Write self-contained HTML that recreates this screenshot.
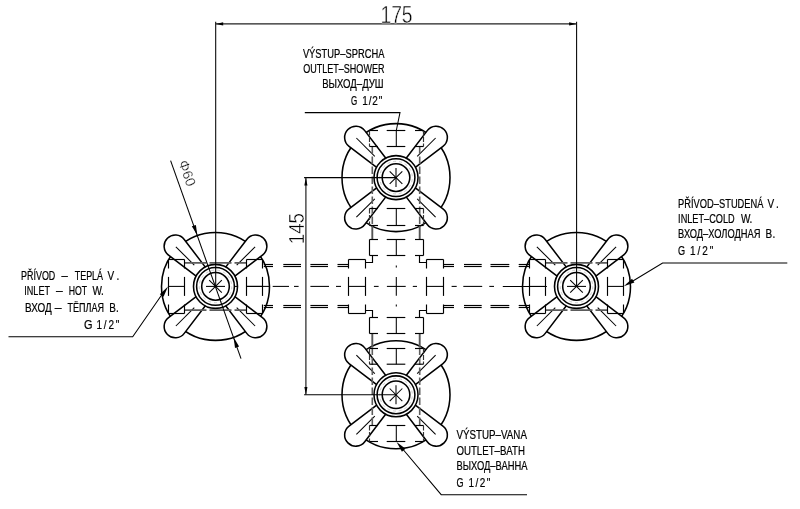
<!DOCTYPE html>
<html lang="cs">
<head>
<meta charset="utf-8">
<title>Baterie – rozměrový výkres</title>
<style>
html,body{margin:0;padding:0;background:#fff;}
body{width:800px;height:509px;overflow:hidden;}
svg{display:block;will-change:transform;}
text{white-space:pre;font-family:"Liberation Sans",sans-serif;}
</style>
</head>
<body>
<svg width="800" height="509" viewBox="0 0 800 509">
<rect width="800" height="509" fill="#fff"/>
<g transform="translate(215.5,286.4) rotate(0)">
<circle r="54" fill="#fff" stroke="#000" stroke-width="1.55"/>
<g transform="rotate(45)"><path d="M20.5,6.4 L55.3,11.1 A11.2,11.2 0 1 0 55.3,-11.1 L20.5,-6.4 Z" fill="#fff" stroke="#000" stroke-width="1.55" stroke-linejoin="round"/><line x1="30" y1="0" x2="56" y2="0" stroke="#000" stroke-width="1.05"/></g>
<g transform="rotate(135)"><path d="M20.5,6.4 L55.3,11.1 A11.2,11.2 0 1 0 55.3,-11.1 L20.5,-6.4 Z" fill="#fff" stroke="#000" stroke-width="1.55" stroke-linejoin="round"/><line x1="30" y1="0" x2="56" y2="0" stroke="#000" stroke-width="1.05"/></g>
<g transform="rotate(225)"><path d="M20.5,6.4 L55.3,11.1 A11.2,11.2 0 1 0 55.3,-11.1 L20.5,-6.4 Z" fill="#fff" stroke="#000" stroke-width="1.55" stroke-linejoin="round"/><line x1="30" y1="0" x2="56" y2="0" stroke="#000" stroke-width="1.05"/></g>
<g transform="rotate(315)"><path d="M20.5,6.4 L55.3,11.1 A11.2,11.2 0 1 0 55.3,-11.1 L20.5,-6.4 Z" fill="#fff" stroke="#000" stroke-width="1.55" stroke-linejoin="round"/><line x1="30" y1="0" x2="56" y2="0" stroke="#000" stroke-width="1.05"/></g>
<circle r="22" fill="#fff" stroke="#000" stroke-width="1.55"/>
<circle r="18.9" fill="none" stroke="#000" stroke-width="1.55"/>
<circle r="16.3" fill="none" stroke="#aaa" stroke-width="0.6" stroke-dasharray="3 3"/>
<circle r="13.8" fill="none" stroke="#000" stroke-width="1.55"/>
<line x1="-9.5" y1="0" x2="9.5" y2="0" stroke="#000" stroke-width="1.05" />
<line x1="-6.3" y1="-6.3" x2="6.3" y2="6.3" stroke="#000" stroke-width="1.05" />
<line x1="-6.3" y1="6.3" x2="6.3" y2="-6.3" stroke="#000" stroke-width="1.05" />
</g>
<g transform="translate(576.5,286.4) rotate(0)">
<circle r="54" fill="#fff" stroke="#000" stroke-width="1.55"/>
<g transform="rotate(45)"><path d="M20.5,6.4 L55.3,11.1 A11.2,11.2 0 1 0 55.3,-11.1 L20.5,-6.4 Z" fill="#fff" stroke="#000" stroke-width="1.55" stroke-linejoin="round"/><line x1="30" y1="0" x2="56" y2="0" stroke="#000" stroke-width="1.05"/></g>
<g transform="rotate(135)"><path d="M20.5,6.4 L55.3,11.1 A11.2,11.2 0 1 0 55.3,-11.1 L20.5,-6.4 Z" fill="#fff" stroke="#000" stroke-width="1.55" stroke-linejoin="round"/><line x1="30" y1="0" x2="56" y2="0" stroke="#000" stroke-width="1.05"/></g>
<g transform="rotate(225)"><path d="M20.5,6.4 L55.3,11.1 A11.2,11.2 0 1 0 55.3,-11.1 L20.5,-6.4 Z" fill="#fff" stroke="#000" stroke-width="1.55" stroke-linejoin="round"/><line x1="30" y1="0" x2="56" y2="0" stroke="#000" stroke-width="1.05"/></g>
<g transform="rotate(315)"><path d="M20.5,6.4 L55.3,11.1 A11.2,11.2 0 1 0 55.3,-11.1 L20.5,-6.4 Z" fill="#fff" stroke="#000" stroke-width="1.55" stroke-linejoin="round"/><line x1="30" y1="0" x2="56" y2="0" stroke="#000" stroke-width="1.05"/></g>
<circle r="22" fill="#fff" stroke="#000" stroke-width="1.55"/>
<circle r="18.9" fill="none" stroke="#000" stroke-width="1.55"/>
<circle r="16.3" fill="none" stroke="#aaa" stroke-width="0.6" stroke-dasharray="3 3"/>
<circle r="13.8" fill="none" stroke="#000" stroke-width="1.55"/>
<line x1="-9.5" y1="0" x2="9.5" y2="0" stroke="#000" stroke-width="1.05" />
<line x1="-6.3" y1="-6.3" x2="6.3" y2="6.3" stroke="#000" stroke-width="1.05" />
<line x1="-6.3" y1="6.3" x2="6.3" y2="-6.3" stroke="#000" stroke-width="1.05" />
</g>
<g transform="translate(396,177.6) rotate(90)">
<circle r="54" fill="#fff" stroke="#000" stroke-width="1.55"/>
<g transform="rotate(45)"><path d="M20.5,6.4 L55.3,11.1 A11.2,11.2 0 1 0 55.3,-11.1 L20.5,-6.4 Z" fill="#fff" stroke="#000" stroke-width="1.55" stroke-linejoin="round"/><line x1="30" y1="0" x2="56" y2="0" stroke="#000" stroke-width="1.05"/></g>
<g transform="rotate(135)"><path d="M20.5,6.4 L55.3,11.1 A11.2,11.2 0 1 0 55.3,-11.1 L20.5,-6.4 Z" fill="#fff" stroke="#000" stroke-width="1.55" stroke-linejoin="round"/><line x1="30" y1="0" x2="56" y2="0" stroke="#000" stroke-width="1.05"/></g>
<g transform="rotate(225)"><path d="M20.5,6.4 L55.3,11.1 A11.2,11.2 0 1 0 55.3,-11.1 L20.5,-6.4 Z" fill="#fff" stroke="#000" stroke-width="1.55" stroke-linejoin="round"/><line x1="30" y1="0" x2="56" y2="0" stroke="#000" stroke-width="1.05"/></g>
<g transform="rotate(315)"><path d="M20.5,6.4 L55.3,11.1 A11.2,11.2 0 1 0 55.3,-11.1 L20.5,-6.4 Z" fill="#fff" stroke="#000" stroke-width="1.55" stroke-linejoin="round"/><line x1="30" y1="0" x2="56" y2="0" stroke="#000" stroke-width="1.05"/></g>
<circle r="22" fill="#fff" stroke="#000" stroke-width="1.55"/>
<circle r="18.9" fill="none" stroke="#000" stroke-width="1.55"/>
<circle r="16.3" fill="none" stroke="#aaa" stroke-width="0.6" stroke-dasharray="3 3"/>
<circle r="13.8" fill="none" stroke="#000" stroke-width="1.55"/>
<line x1="-9.5" y1="0" x2="9.5" y2="0" stroke="#000" stroke-width="1.05" />
<line x1="-6.3" y1="-6.3" x2="6.3" y2="6.3" stroke="#000" stroke-width="1.05" />
<line x1="-6.3" y1="6.3" x2="6.3" y2="-6.3" stroke="#000" stroke-width="1.05" />
</g>
<g transform="translate(396,394.8) rotate(90)">
<circle r="54" fill="#fff" stroke="#000" stroke-width="1.55"/>
<g transform="rotate(45)"><path d="M20.5,6.4 L55.3,11.1 A11.2,11.2 0 1 0 55.3,-11.1 L20.5,-6.4 Z" fill="#fff" stroke="#000" stroke-width="1.55" stroke-linejoin="round"/><line x1="30" y1="0" x2="56" y2="0" stroke="#000" stroke-width="1.05"/></g>
<g transform="rotate(135)"><path d="M20.5,6.4 L55.3,11.1 A11.2,11.2 0 1 0 55.3,-11.1 L20.5,-6.4 Z" fill="#fff" stroke="#000" stroke-width="1.55" stroke-linejoin="round"/><line x1="30" y1="0" x2="56" y2="0" stroke="#000" stroke-width="1.05"/></g>
<g transform="rotate(225)"><path d="M20.5,6.4 L55.3,11.1 A11.2,11.2 0 1 0 55.3,-11.1 L20.5,-6.4 Z" fill="#fff" stroke="#000" stroke-width="1.55" stroke-linejoin="round"/><line x1="30" y1="0" x2="56" y2="0" stroke="#000" stroke-width="1.05"/></g>
<g transform="rotate(315)"><path d="M20.5,6.4 L55.3,11.1 A11.2,11.2 0 1 0 55.3,-11.1 L20.5,-6.4 Z" fill="#fff" stroke="#000" stroke-width="1.55" stroke-linejoin="round"/><line x1="30" y1="0" x2="56" y2="0" stroke="#000" stroke-width="1.05"/></g>
<circle r="22" fill="#fff" stroke="#000" stroke-width="1.55"/>
<circle r="18.9" fill="none" stroke="#000" stroke-width="1.55"/>
<circle r="16.3" fill="none" stroke="#aaa" stroke-width="0.6" stroke-dasharray="3 3"/>
<circle r="13.8" fill="none" stroke="#000" stroke-width="1.55"/>
<line x1="-9.5" y1="0" x2="9.5" y2="0" stroke="#000" stroke-width="1.05" />
<line x1="-6.3" y1="-6.3" x2="6.3" y2="6.3" stroke="#000" stroke-width="1.05" />
<line x1="-6.3" y1="6.3" x2="6.3" y2="-6.3" stroke="#000" stroke-width="1.05" />
</g>
<line x1="184.5" y1="262.9" x2="246.5" y2="262.9" stroke="#5c5c5c" stroke-width="1.9" stroke-dasharray="22 3"/>
<line x1="184.5" y1="310.1" x2="246.5" y2="310.1" stroke="#5c5c5c" stroke-width="1.9" stroke-dasharray="22 3"/>
<line x1="545.5" y1="262.9" x2="607.5" y2="262.9" stroke="#5c5c5c" stroke-width="1.9" stroke-dasharray="22 3"/>
<line x1="545.5" y1="310.1" x2="607.5" y2="310.1" stroke="#5c5c5c" stroke-width="1.9" stroke-dasharray="22 3"/>
<line x1="372.3" y1="146.5" x2="372.3" y2="225.5" stroke="#5e5e5e" stroke-width="1.6" stroke-dasharray="7.5 2.5"/>
<line x1="372.3" y1="225.5" x2="372.3" y2="239.5" stroke="#555" stroke-width="1.9" />
<line x1="372.3" y1="333.5" x2="372.3" y2="347.5" stroke="#555" stroke-width="1.9" />
<line x1="372.3" y1="347.5" x2="372.3" y2="425.5" stroke="#5e5e5e" stroke-width="1.6" stroke-dasharray="7.5 2.5"/>
<line x1="419.7" y1="146.5" x2="419.7" y2="225.5" stroke="#5e5e5e" stroke-width="1.6" stroke-dasharray="7.5 2.5"/>
<line x1="419.7" y1="225.5" x2="419.7" y2="239.5" stroke="#555" stroke-width="1.9" />
<line x1="419.7" y1="333.5" x2="419.7" y2="347.5" stroke="#555" stroke-width="1.9" />
<line x1="419.7" y1="347.5" x2="419.7" y2="425.5" stroke="#5e5e5e" stroke-width="1.6" stroke-dasharray="7.5 2.5"/>
<g>
<line x1="168.5" y1="259.5" x2="184.5" y2="259.5" stroke="#000" stroke-width="1.15" />
<line x1="168.5" y1="313.5" x2="184.5" y2="313.5" stroke="#000" stroke-width="1.15" />
<line x1="168.5" y1="259.5" x2="168.5" y2="268.5" stroke="#000" stroke-width="1.15" />
<line x1="168.5" y1="304.5" x2="168.5" y2="313.5" stroke="#000" stroke-width="1.15" />
<line x1="168.5" y1="276.9" x2="168.5" y2="295.9" stroke="#000" stroke-width="1.15" />
<line x1="184.5" y1="259.5" x2="184.5" y2="268.5" stroke="#000" stroke-width="1.15" />
<line x1="184.5" y1="304.5" x2="184.5" y2="313.5" stroke="#000" stroke-width="1.15" />
<line x1="184.5" y1="276.9" x2="184.5" y2="295.9" stroke="#000" stroke-width="1.15" />
<line x1="168.5" y1="286.4" x2="184.5" y2="286.4" stroke="#000" stroke-width="1.05" />
</g>
<g>
<line x1="246.5" y1="259.5" x2="262.5" y2="259.5" stroke="#000" stroke-width="1.15" />
<line x1="246.5" y1="313.5" x2="262.5" y2="313.5" stroke="#000" stroke-width="1.15" />
<line x1="246.5" y1="259.5" x2="246.5" y2="268.5" stroke="#000" stroke-width="1.15" />
<line x1="246.5" y1="304.5" x2="246.5" y2="313.5" stroke="#000" stroke-width="1.15" />
<line x1="246.5" y1="276.9" x2="246.5" y2="295.9" stroke="#000" stroke-width="1.15" />
<line x1="262.5" y1="259.5" x2="262.5" y2="268.5" stroke="#000" stroke-width="1.15" />
<line x1="262.5" y1="304.5" x2="262.5" y2="313.5" stroke="#000" stroke-width="1.15" />
<line x1="262.5" y1="276.9" x2="262.5" y2="295.9" stroke="#000" stroke-width="1.15" />
<line x1="246.5" y1="286.4" x2="262.5" y2="286.4" stroke="#000" stroke-width="1.05" />
</g>
<g>
<line x1="529.5" y1="259.5" x2="545.5" y2="259.5" stroke="#000" stroke-width="1.15" />
<line x1="529.5" y1="313.5" x2="545.5" y2="313.5" stroke="#000" stroke-width="1.15" />
<line x1="529.5" y1="259.5" x2="529.5" y2="268.5" stroke="#000" stroke-width="1.15" />
<line x1="529.5" y1="304.5" x2="529.5" y2="313.5" stroke="#000" stroke-width="1.15" />
<line x1="529.5" y1="276.9" x2="529.5" y2="295.9" stroke="#000" stroke-width="1.15" />
<line x1="545.5" y1="259.5" x2="545.5" y2="268.5" stroke="#000" stroke-width="1.15" />
<line x1="545.5" y1="304.5" x2="545.5" y2="313.5" stroke="#000" stroke-width="1.15" />
<line x1="545.5" y1="276.9" x2="545.5" y2="295.9" stroke="#000" stroke-width="1.15" />
<line x1="529.5" y1="286.4" x2="545.5" y2="286.4" stroke="#000" stroke-width="1.05" />
</g>
<g>
<line x1="607.5" y1="259.5" x2="623.5" y2="259.5" stroke="#000" stroke-width="1.15" />
<line x1="607.5" y1="313.5" x2="623.5" y2="313.5" stroke="#000" stroke-width="1.15" />
<line x1="607.5" y1="259.5" x2="607.5" y2="268.5" stroke="#000" stroke-width="1.15" />
<line x1="607.5" y1="304.5" x2="607.5" y2="313.5" stroke="#000" stroke-width="1.15" />
<line x1="607.5" y1="276.9" x2="607.5" y2="295.9" stroke="#000" stroke-width="1.15" />
<line x1="623.5" y1="259.5" x2="623.5" y2="268.5" stroke="#000" stroke-width="1.15" />
<line x1="623.5" y1="304.5" x2="623.5" y2="313.5" stroke="#000" stroke-width="1.15" />
<line x1="623.5" y1="276.9" x2="623.5" y2="295.9" stroke="#000" stroke-width="1.15" />
<line x1="607.5" y1="286.4" x2="623.5" y2="286.4" stroke="#000" stroke-width="1.05" />
</g>
<g>
<line x1="348.5" y1="259.5" x2="365.5" y2="259.5" stroke="#000" stroke-width="1.15" />
<line x1="348.5" y1="313.5" x2="365.5" y2="313.5" stroke="#000" stroke-width="1.15" />
<line x1="348.5" y1="259.5" x2="348.5" y2="268.5" stroke="#000" stroke-width="1.15" />
<line x1="348.5" y1="304.5" x2="348.5" y2="313.5" stroke="#000" stroke-width="1.15" />
<line x1="348.5" y1="276.9" x2="348.5" y2="295.9" stroke="#000" stroke-width="1.15" />
<line x1="365.5" y1="259.5" x2="365.5" y2="268.5" stroke="#000" stroke-width="1.15" />
<line x1="365.5" y1="304.5" x2="365.5" y2="313.5" stroke="#000" stroke-width="1.15" />
<line x1="365.5" y1="276.9" x2="365.5" y2="295.9" stroke="#000" stroke-width="1.15" />
<line x1="348.5" y1="286.4" x2="365.5" y2="286.4" stroke="#000" stroke-width="1.05" />
</g>
<g>
<line x1="426.5" y1="259.5" x2="443.5" y2="259.5" stroke="#000" stroke-width="1.15" />
<line x1="426.5" y1="313.5" x2="443.5" y2="313.5" stroke="#000" stroke-width="1.15" />
<line x1="426.5" y1="259.5" x2="426.5" y2="268.5" stroke="#000" stroke-width="1.15" />
<line x1="426.5" y1="304.5" x2="426.5" y2="313.5" stroke="#000" stroke-width="1.15" />
<line x1="426.5" y1="276.9" x2="426.5" y2="295.9" stroke="#000" stroke-width="1.15" />
<line x1="443.5" y1="259.5" x2="443.5" y2="268.5" stroke="#000" stroke-width="1.15" />
<line x1="443.5" y1="304.5" x2="443.5" y2="313.5" stroke="#000" stroke-width="1.15" />
<line x1="443.5" y1="276.9" x2="443.5" y2="295.9" stroke="#000" stroke-width="1.15" />
<line x1="426.5" y1="286.4" x2="443.5" y2="286.4" stroke="#000" stroke-width="1.05" />
</g>
<g>
<line x1="369.5" y1="130.5" x2="369.5" y2="146.5" stroke="#333" stroke-width="1.15" stroke-dasharray="5 1.5"/>
<line x1="423.5" y1="130.5" x2="423.5" y2="146.5" stroke="#333" stroke-width="1.15" stroke-dasharray="5 1.5"/>
<line x1="369.5" y1="130.5" x2="378" y2="130.5" stroke="#000" stroke-width="1.15" />
<line x1="415" y1="130.5" x2="423.5" y2="130.5" stroke="#000" stroke-width="1.15" />
<line x1="386.7" y1="130.5" x2="405.3" y2="130.5" stroke="#000" stroke-width="1.15" />
<line x1="369.5" y1="146.5" x2="378" y2="146.5" stroke="#000" stroke-width="1.15" />
<line x1="415" y1="146.5" x2="423.5" y2="146.5" stroke="#000" stroke-width="1.15" />
<line x1="386.7" y1="146.5" x2="405.3" y2="146.5" stroke="#000" stroke-width="1.15" />
<line x1="396.3" y1="130.5" x2="396.3" y2="146.5" stroke="#000" stroke-width="1.05" />
</g>
<g>
<line x1="369.5" y1="208.5" x2="369.5" y2="225.5" stroke="#333" stroke-width="1.15" stroke-dasharray="5 1.5"/>
<line x1="423.5" y1="208.5" x2="423.5" y2="225.5" stroke="#333" stroke-width="1.15" stroke-dasharray="5 1.5"/>
<line x1="369.5" y1="208.5" x2="378" y2="208.5" stroke="#000" stroke-width="1.15" />
<line x1="415" y1="208.5" x2="423.5" y2="208.5" stroke="#000" stroke-width="1.15" />
<line x1="386.7" y1="208.5" x2="405.3" y2="208.5" stroke="#000" stroke-width="1.15" />
<line x1="369.5" y1="225.5" x2="378" y2="225.5" stroke="#000" stroke-width="1.15" />
<line x1="415" y1="225.5" x2="423.5" y2="225.5" stroke="#000" stroke-width="1.15" />
<line x1="386.7" y1="225.5" x2="405.3" y2="225.5" stroke="#000" stroke-width="1.15" />
<line x1="396.3" y1="208.5" x2="396.3" y2="225.5" stroke="#000" stroke-width="1.05" />
</g>
<g>
<line x1="369.5" y1="239.5" x2="369.5" y2="255.5" stroke="#000" stroke-width="1.15" />
<line x1="423.5" y1="239.5" x2="423.5" y2="255.5" stroke="#000" stroke-width="1.15" />
<line x1="369.5" y1="239.5" x2="378" y2="239.5" stroke="#000" stroke-width="1.15" />
<line x1="415" y1="239.5" x2="423.5" y2="239.5" stroke="#000" stroke-width="1.15" />
<line x1="386.7" y1="239.5" x2="405.3" y2="239.5" stroke="#000" stroke-width="1.15" />
<line x1="369.5" y1="255.5" x2="378" y2="255.5" stroke="#000" stroke-width="1.15" />
<line x1="415" y1="255.5" x2="423.5" y2="255.5" stroke="#000" stroke-width="1.15" />
<line x1="386.7" y1="255.5" x2="405.3" y2="255.5" stroke="#000" stroke-width="1.15" />
<line x1="396.3" y1="239.5" x2="396.3" y2="255.5" stroke="#000" stroke-width="1.05" />
</g>
<g>
<line x1="369.5" y1="317.5" x2="369.5" y2="333.5" stroke="#000" stroke-width="1.15" />
<line x1="423.5" y1="317.5" x2="423.5" y2="333.5" stroke="#000" stroke-width="1.15" />
<line x1="369.5" y1="317.5" x2="378" y2="317.5" stroke="#000" stroke-width="1.15" />
<line x1="415" y1="317.5" x2="423.5" y2="317.5" stroke="#000" stroke-width="1.15" />
<line x1="386.7" y1="317.5" x2="405.3" y2="317.5" stroke="#000" stroke-width="1.15" />
<line x1="369.5" y1="333.5" x2="378" y2="333.5" stroke="#000" stroke-width="1.15" />
<line x1="415" y1="333.5" x2="423.5" y2="333.5" stroke="#000" stroke-width="1.15" />
<line x1="386.7" y1="333.5" x2="405.3" y2="333.5" stroke="#000" stroke-width="1.15" />
<line x1="396.3" y1="317.5" x2="396.3" y2="333.5" stroke="#000" stroke-width="1.05" />
</g>
<g>
<line x1="369.5" y1="348.5" x2="369.5" y2="364.2" stroke="#333" stroke-width="1.15" stroke-dasharray="5 1.5"/>
<line x1="423.5" y1="348.5" x2="423.5" y2="364.2" stroke="#333" stroke-width="1.15" stroke-dasharray="5 1.5"/>
<line x1="369.5" y1="348.5" x2="378" y2="348.5" stroke="#000" stroke-width="1.15" />
<line x1="415" y1="348.5" x2="423.5" y2="348.5" stroke="#000" stroke-width="1.15" />
<line x1="386.7" y1="348.5" x2="405.3" y2="348.5" stroke="#000" stroke-width="1.15" />
<line x1="369.5" y1="364.2" x2="378" y2="364.2" stroke="#000" stroke-width="1.15" />
<line x1="415" y1="364.2" x2="423.5" y2="364.2" stroke="#000" stroke-width="1.15" />
<line x1="386.7" y1="364.2" x2="405.3" y2="364.2" stroke="#000" stroke-width="1.15" />
<line x1="396.3" y1="348.5" x2="396.3" y2="364.2" stroke="#000" stroke-width="1.05" />
</g>
<g>
<line x1="369.5" y1="425.5" x2="369.5" y2="441.5" stroke="#333" stroke-width="1.15" stroke-dasharray="5 1.5"/>
<line x1="423.5" y1="425.5" x2="423.5" y2="441.5" stroke="#333" stroke-width="1.15" stroke-dasharray="5 1.5"/>
<line x1="369.5" y1="425.5" x2="378" y2="425.5" stroke="#000" stroke-width="1.15" />
<line x1="415" y1="425.5" x2="423.5" y2="425.5" stroke="#000" stroke-width="1.15" />
<line x1="386.7" y1="425.5" x2="405.3" y2="425.5" stroke="#000" stroke-width="1.15" />
<line x1="369.5" y1="441.5" x2="378" y2="441.5" stroke="#000" stroke-width="1.15" />
<line x1="415" y1="441.5" x2="423.5" y2="441.5" stroke="#000" stroke-width="1.15" />
<line x1="386.7" y1="441.5" x2="405.3" y2="441.5" stroke="#000" stroke-width="1.15" />
<line x1="396.3" y1="425.5" x2="396.3" y2="441.5" stroke="#000" stroke-width="1.05" />
</g>
<polyline points="365.5,262.5 372.5,262.5 372.5,255.5" fill="none" stroke="#000" stroke-width="1.15"/>
<polyline points="365.5,310.5 372.5,310.5 372.5,317.5" fill="none" stroke="#000" stroke-width="1.15"/>
<polyline points="426.5,262.5 419.5,262.5 419.5,255.5" fill="none" stroke="#000" stroke-width="1.15"/>
<polyline points="426.5,310.5 419.5,310.5 419.5,317.5" fill="none" stroke="#000" stroke-width="1.15"/>
<line x1="263.8" y1="264.5" x2="273" y2="264.5" stroke="#000" stroke-width="1.15" />
<line x1="283.3" y1="264.5" x2="301" y2="264.5" stroke="#000" stroke-width="1.15" />
<line x1="310.4" y1="264.5" x2="328" y2="264.5" stroke="#000" stroke-width="1.15" />
<line x1="337.5" y1="264.5" x2="348.5" y2="264.5" stroke="#000" stroke-width="1.15" />
<line x1="443.5" y1="264.5" x2="454" y2="264.5" stroke="#000" stroke-width="1.15" />
<line x1="464" y1="264.5" x2="481.7" y2="264.5" stroke="#000" stroke-width="1.15" />
<line x1="490.5" y1="264.5" x2="509.3" y2="264.5" stroke="#000" stroke-width="1.15" />
<line x1="518.7" y1="264.5" x2="529.5" y2="264.5" stroke="#000" stroke-width="1.15" />
<line x1="263.8" y1="266.5" x2="273" y2="266.5" stroke="#000" stroke-width="1.15" />
<line x1="283.3" y1="266.5" x2="301" y2="266.5" stroke="#000" stroke-width="1.15" />
<line x1="310.4" y1="266.5" x2="328" y2="266.5" stroke="#000" stroke-width="1.15" />
<line x1="337.5" y1="266.5" x2="348.5" y2="266.5" stroke="#000" stroke-width="1.15" />
<line x1="443.5" y1="266.5" x2="454" y2="266.5" stroke="#000" stroke-width="1.15" />
<line x1="464" y1="266.5" x2="481.7" y2="266.5" stroke="#000" stroke-width="1.15" />
<line x1="490.5" y1="266.5" x2="509.3" y2="266.5" stroke="#000" stroke-width="1.15" />
<line x1="518.7" y1="266.5" x2="529.5" y2="266.5" stroke="#000" stroke-width="1.15" />
<line x1="263.8" y1="305.5" x2="273" y2="305.5" stroke="#000" stroke-width="1.15" />
<line x1="283.3" y1="305.5" x2="301" y2="305.5" stroke="#000" stroke-width="1.15" />
<line x1="310.4" y1="305.5" x2="328" y2="305.5" stroke="#000" stroke-width="1.15" />
<line x1="337.5" y1="305.5" x2="348.5" y2="305.5" stroke="#000" stroke-width="1.15" />
<line x1="443.5" y1="305.5" x2="454" y2="305.5" stroke="#000" stroke-width="1.15" />
<line x1="464" y1="305.5" x2="481.7" y2="305.5" stroke="#000" stroke-width="1.15" />
<line x1="490.5" y1="305.5" x2="509.3" y2="305.5" stroke="#000" stroke-width="1.15" />
<line x1="518.7" y1="305.5" x2="529.5" y2="305.5" stroke="#000" stroke-width="1.15" />
<line x1="263.8" y1="307.5" x2="273" y2="307.5" stroke="#000" stroke-width="1.15" />
<line x1="283.3" y1="307.5" x2="301" y2="307.5" stroke="#000" stroke-width="1.15" />
<line x1="310.4" y1="307.5" x2="328" y2="307.5" stroke="#000" stroke-width="1.15" />
<line x1="337.5" y1="307.5" x2="348.5" y2="307.5" stroke="#000" stroke-width="1.15" />
<line x1="443.5" y1="307.5" x2="454" y2="307.5" stroke="#000" stroke-width="1.15" />
<line x1="464" y1="307.5" x2="481.7" y2="307.5" stroke="#000" stroke-width="1.15" />
<line x1="490.5" y1="307.5" x2="509.3" y2="307.5" stroke="#000" stroke-width="1.15" />
<line x1="518.7" y1="307.5" x2="529.5" y2="307.5" stroke="#000" stroke-width="1.15" />
<line x1="234.8" y1="286.4" x2="237" y2="286.4" stroke="#000" stroke-width="1.05" />
<line x1="246.5" y1="286.4" x2="269" y2="286.4" stroke="#000" stroke-width="1.05" />
<line x1="272.7" y1="286.4" x2="289" y2="286.4" stroke="#000" stroke-width="1.05" />
<line x1="294" y1="286.4" x2="298.6" y2="286.4" stroke="#000" stroke-width="1.05" />
<line x1="310.4" y1="286.4" x2="329" y2="286.4" stroke="#000" stroke-width="1.05" />
<line x1="336" y1="286.4" x2="341" y2="286.4" stroke="#000" stroke-width="1.05" />
<line x1="373.9" y1="286.4" x2="378.6" y2="286.4" stroke="#000" stroke-width="1.05" />
<line x1="386.9" y1="286.4" x2="405.7" y2="286.4" stroke="#000" stroke-width="1.05" />
<line x1="412.8" y1="286.4" x2="417" y2="286.4" stroke="#000" stroke-width="1.05" />
<line x1="451.6" y1="286.4" x2="456.7" y2="286.4" stroke="#000" stroke-width="1.05" />
<line x1="463.3" y1="286.4" x2="482.2" y2="286.4" stroke="#000" stroke-width="1.05" />
<line x1="489.3" y1="286.4" x2="494" y2="286.4" stroke="#000" stroke-width="1.05" />
<line x1="502.8" y1="286.4" x2="546.9" y2="286.4" stroke="#000" stroke-width="1.05" />
<line x1="396.3" y1="265.6" x2="396.3" y2="267.4" stroke="#000" stroke-width="1.05" />
<line x1="396.3" y1="276.9" x2="396.3" y2="295.7" stroke="#000" stroke-width="1.05" />
<line x1="396.3" y1="304.6" x2="396.3" y2="306.4" stroke="#000" stroke-width="1.05" />
<line x1="215.7" y1="21.8" x2="215.7" y2="286.4" stroke="#000" stroke-width="1.05" />
<line x1="576.6" y1="21.8" x2="576.6" y2="286.4" stroke="#000" stroke-width="1.05" />
<line x1="215.7" y1="23.9" x2="576.6" y2="23.9" stroke="#222" stroke-width="1.2" />
<polygon points="215.7,23.9 223.2,22.35 223.2,25.45" fill="#000"/>
<polygon points="576.6,23.9 569.1,25.45 569.1,22.35" fill="#000"/>
<line x1="304.1" y1="177.6" x2="396" y2="177.6" stroke="#000" stroke-width="1.05" />
<line x1="304.1" y1="394.8" x2="396" y2="394.8" stroke="#000" stroke-width="1.05" />
<line x1="305.9" y1="177.6" x2="305.9" y2="394.8" stroke="#222" stroke-width="1.2" />
<polygon points="305.9,177.6 307.45,185.4 304.35,185.4" fill="#000"/>
<polygon points="305.9,394.8 304.35,387 307.45,387" fill="#000"/>
<line x1="170.6" y1="160.6" x2="241" y2="358.6" stroke="#000" stroke-width="1.05" />
<polygon points="197.39,235.53 191.83,226.36 195.88,224.92" fill="#000"/>
<polygon points="233.61,337.27 239.08,346.49 235.02,347.9" fill="#000"/>
<polyline points="304.8,112.6 400,112.6 396.3,130.5" fill="none" stroke="#000" stroke-width="1.05"/>
<polyline points="8.5,336.7 132.7,336.7 163,293" fill="none" stroke="#000" stroke-width="1.05"/>
<polygon points="168,286.5 163.55,296.82 159.79,294.18" fill="#000"/>
<polyline points="787.3,263 662.6,263 630,282.7" fill="none" stroke="#000" stroke-width="1.05"/>
<polygon points="623.8,286.3 632.05,278.67 634.41,282.61" fill="#000"/>
<polyline points="527,494.7 441.2,494.7 401,447" fill="none" stroke="#000" stroke-width="1.05"/>
<polygon points="396.6,441.9 405.46,448.82 401.94,451.79" fill="#000"/>
<g>
<text x="302.9" y="57.5"  font-size="12.8" textLength="81.5" lengthAdjust="spacingAndGlyphs" text-anchor="start" fill="#000" stroke="#000" stroke-width="0.22">VÝSTUP–SPRCHA</text>
<text x="303.3" y="72.7"  font-size="12.8" textLength="81.1" lengthAdjust="spacingAndGlyphs" text-anchor="start" fill="#000" stroke="#000" stroke-width="0.22">OUTLET–SHOWER</text>
<text x="322.2" y="87.8"  font-size="12.8" textLength="61.4" lengthAdjust="spacingAndGlyphs" text-anchor="start" fill="#000" stroke="#000" stroke-width="0.22">ВЫХОД–ДУШ</text>
<text x="351.1" y="104.7"  font-size="12.8" textLength="6.2" lengthAdjust="spacingAndGlyphs" text-anchor="start" fill="#000" stroke="#000" stroke-width="0.22">G</text>
<text transform="translate(362.2,104.7) scale(0.78,1)"  font-size="12.8" textLength="25.9" lengthAdjust="spacing" fill="#000" stroke="#000" stroke-width="0.22">1/2"</text>
</g>
<g>
<text x="21.1" y="279.8"  font-size="12.8" textLength="34.2" lengthAdjust="spacingAndGlyphs" text-anchor="start" fill="#000" stroke="#000" stroke-width="0.22">PŘÍVOD</text>
<text x="61.4" y="279.8"  font-size="12.8" textLength="6.3" lengthAdjust="spacingAndGlyphs" text-anchor="start" fill="#000" stroke="#000" stroke-width="0.22">–</text>
<text x="74.7" y="279.8"  font-size="12.8" textLength="28.4" lengthAdjust="spacingAndGlyphs" text-anchor="start" fill="#000" stroke="#000" stroke-width="0.22">TEPLÁ</text>
<text transform="translate(107.5,279.8) scale(0.78,1)"  font-size="12.8" textLength="15.13" lengthAdjust="spacing" fill="#000" stroke="#000" stroke-width="0.22">V.</text>
<text x="24.3" y="294.8"  font-size="12.8" textLength="25.7" lengthAdjust="spacingAndGlyphs" text-anchor="start" fill="#000" stroke="#000" stroke-width="0.22">INLET</text>
<text x="56.1" y="294.8"  font-size="12.8" textLength="6.7" lengthAdjust="spacingAndGlyphs" text-anchor="start" fill="#000" stroke="#000" stroke-width="0.22">–</text>
<text x="68.8" y="294.8"  font-size="12.8" textLength="18.4" lengthAdjust="spacingAndGlyphs" text-anchor="start" fill="#000" stroke="#000" stroke-width="0.22">HOT</text>
<text transform="translate(92.5,294.8) scale(0.78,1)"  font-size="12.8" textLength="14.49" lengthAdjust="spacing" fill="#000" stroke="#000" stroke-width="0.22">W.</text>
<text x="25.1" y="312"  font-size="12.8" textLength="26.7" lengthAdjust="spacingAndGlyphs" text-anchor="start" fill="#000" stroke="#000" stroke-width="0.22">ВХОД</text>
<text x="54.7" y="312"  font-size="12.8" textLength="6.8" lengthAdjust="spacingAndGlyphs" text-anchor="start" fill="#000" stroke="#000" stroke-width="0.22">–</text>
<text x="67.6" y="312"  font-size="12.8" textLength="36.4" lengthAdjust="spacingAndGlyphs" text-anchor="start" fill="#000" stroke="#000" stroke-width="0.22">ТЁПЛАЯ</text>
<text transform="translate(109.3,312) scale(0.78,1)"  font-size="12.8" textLength="12.18" lengthAdjust="spacing" fill="#000" stroke="#000" stroke-width="0.22">В.</text>
<text x="84" y="329"  font-size="12.8" textLength="8.5" lengthAdjust="spacingAndGlyphs" text-anchor="start" fill="#000" stroke="#000" stroke-width="0.22">G</text>
<text transform="translate(96.5,329) scale(0.78,1)"  font-size="12.8" textLength="29.23" lengthAdjust="spacing" fill="#000" stroke="#000" stroke-width="0.22">1/2"</text>
</g>
<g>
<text x="678.1" y="207.6"  font-size="12.8" textLength="85.4" lengthAdjust="spacingAndGlyphs" text-anchor="start" fill="#000" stroke="#000" stroke-width="0.22">PŘÍVOD–STUDENÁ</text>
<text transform="translate(767.4,207.6) scale(0.78,1)"  font-size="12.8" textLength="14.62" lengthAdjust="spacing" fill="#000" stroke="#000" stroke-width="0.22">V.</text>
<text x="678.1" y="222.7"  font-size="12.8" textLength="56.6" lengthAdjust="spacingAndGlyphs" text-anchor="start" fill="#000" stroke="#000" stroke-width="0.22">INLET–COLD</text>
<text transform="translate(740.9,222.7) scale(0.78,1)"  font-size="12.8" textLength="14.49" lengthAdjust="spacing" fill="#000" stroke="#000" stroke-width="0.22">W.</text>
<text x="678.1" y="238"  font-size="12.8" textLength="82.3" lengthAdjust="spacingAndGlyphs" text-anchor="start" fill="#000" stroke="#000" stroke-width="0.22">ВХОД–ХОЛОДНАЯ</text>
<text transform="translate(765.6,238) scale(0.78,1)"  font-size="12.8" textLength="12.31" lengthAdjust="spacing" fill="#000" stroke="#000" stroke-width="0.22">В.</text>
<text x="678.1" y="254.8"  font-size="12.8" textLength="7.1" lengthAdjust="spacingAndGlyphs" text-anchor="start" fill="#000" stroke="#000" stroke-width="0.22">G</text>
<text transform="translate(690,254.8) scale(0.78,1)"  font-size="12.8" textLength="29.87" lengthAdjust="spacing" fill="#000" stroke="#000" stroke-width="0.22">1/2"</text>
</g>
<g>
<text x="456.5" y="439"  font-size="12.8" textLength="70.4" lengthAdjust="spacingAndGlyphs" text-anchor="start" fill="#000" stroke="#000" stroke-width="0.22">VÝSTUP–VANA</text>
<text x="456.5" y="454.6"  font-size="12.8" textLength="68.4" lengthAdjust="spacingAndGlyphs" text-anchor="start" fill="#000" stroke="#000" stroke-width="0.22">OUTLET–BATH</text>
<text x="456.5" y="470"  font-size="12.8" textLength="71" lengthAdjust="spacingAndGlyphs" text-anchor="start" fill="#000" stroke="#000" stroke-width="0.22">ВЫХОД–ВАННА</text>
<text x="456.5" y="487"  font-size="12.8" textLength="7" lengthAdjust="spacingAndGlyphs" text-anchor="start" fill="#000" stroke="#000" stroke-width="0.22">G</text>
<text transform="translate(468.6,487) scale(0.78,1)"  font-size="12.8" textLength="27.69" lengthAdjust="spacing" fill="#000" stroke="#000" stroke-width="0.22">1/2"</text>
</g>
<text x="380.4" y="23"  font-size="23.2" textLength="32.2" lengthAdjust="spacingAndGlyphs" text-anchor="start" fill="#000" stroke="#fff" stroke-width="0.45">175</text>
<g transform="translate(304.2,242.6) rotate(-90)"><text x="-1.6" y="0"  font-size="22.2" textLength="31.2" lengthAdjust="spacingAndGlyphs" text-anchor="start" fill="#000" stroke="#fff" stroke-width="0.45">145</text></g>
<g transform="translate(178.2,162.3) rotate(70.4)"><text x="0" y="0"  font-size="14" textLength="26.5" lengthAdjust="spacingAndGlyphs" text-anchor="start" fill="#000" stroke="#fff" stroke-width="0.3">Φ60</text></g>
</svg>
</body>
</html>
